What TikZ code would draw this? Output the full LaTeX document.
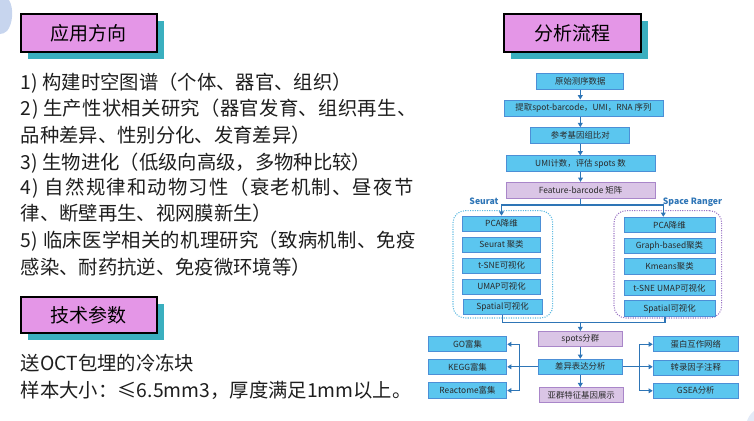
\documentclass[tikz,border=0pt]{standalone}
\usepackage{fontspec}
\setmainfont{Noto Sans CJK SC}
\usetikzlibrary{shadows,calc,arrows.meta}
\definecolor{titlepink}{HTML}{E496E7}
\definecolor{shteal}{HTML}{3AAFBF}
\definecolor{bfill}{HTML}{5BC6EF}
\definecolor{bline}{HTML}{4C8FD6}
\definecolor{pfill}{HTML}{DAC5E6}
\definecolor{pline}{HTML}{A986C9}
\definecolor{conn}{HTML}{2E75B6}
\definecolor{txt}{HTML}{1E1E1E}
\definecolor{ftxt}{HTML}{2A2A2A}
\definecolor{lblue}{HTML}{5BB8E0}
\definecolor{lpurp}{HTML}{9A74C4}
\definecolor{blob}{HTML}{C7D5EE}
\begin{document}
\begin{tikzpicture}[x=0.75pt,y=-0.75pt,
 wh/.style 2 args={minimum width=#1*0.75pt, minimum height=#2*0.75pt},
 titlebox/.style={draw=black, line width=1.3pt, fill=titlepink, inner sep=0pt, text=black,
   font=\fontsize{14.25}{16}\selectfont,
   drop shadow={shadow xshift=5.2pt, shadow yshift=-5.2pt, fill=shteal, opacity=1}},
 bodytext/.style={anchor=west, inner sep=0pt, text=txt, font=\fontsize{14.5}{16}\selectfont},
 fbox/.style={draw=bline, line width=0.75pt, fill=bfill, inner sep=0pt, text=ftxt,
   font=\fontsize{6.3}{7}\selectfont},
 pbox/.style={fbox, draw=pline, fill=pfill},
 arr/.style={draw=conn, line width=1pt, -{Triangle[length=3.2pt,width=3.6pt]}},
 ln/.style={draw=conn, line width=1pt},
 grp/.style={rounded corners=9pt, densely dotted, line width=0.8pt, inner sep=0pt},
 lbl/.style={inner sep=0pt, text=conn, font=\bfseries\fontsize{6.5}{7}\selectfont}]
\useasboundingbox (0,0) rectangle (754,421);
% decorations
\fill[blob] (0,0) -- (9,0) .. controls (14,8) and (13,24) .. (7,31) .. controls (5,33) and (2,34) .. (0,34) -- cycle;
\fill[blob!50] (754,411) .. controls (750,414) and (748,418) .. (747,421) -- (754,421) -- cycle;
% titles
\node[titlebox, wh={136}{38.3}] (tA) at (88.7,33.2) {应用方向};
\node[titlebox, wh={136.7}{38}] (tB) at (572.3,33) {分析流程};
\node[titlebox, wh={136}{36.6}] (tC) at (88.7,315) {技术参数};
% body text
\node[bodytext] (t1) at (20.7,82.7) {1) 构建时空图谱（个体、器官、组织）};
\node[bodytext] (t2) at (20.7,109.3) {\addfontfeatures{LetterSpace=1.7}2) 生产性状相关研究（器官发育、组织再生、};
\node[bodytext] (t3) at (20.7,135.3) {品种差异、性别分化、发育差异）};
\node[bodytext] (t4) at (20.7,162.7) {3) 生物进化（低级向高级，多物种比较）};
\node[bodytext] (t5) at (20.7,188.3) {\addfontfeatures{LetterSpace=6.2}4) 自然规律和动物习性（衰老机制、昼夜节};
\node[bodytext] (t6) at (20.7,213.3) {律、断壁再生、视网膜新生）};
\node[bodytext] (t7) at (20.7,240.7) {\addfontfeatures{LetterSpace=1.5}5) 临床医学相关的机理研究（致病机制、免疫};
\node[bodytext] (t8) at (20.7,266.7) {感染、耐药抗逆、免疫微环境等）};
\node[bodytext] (t9) at (20.7,363.3) {送OCT包埋的冷冻块};
\node[bodytext] (t10) at (20.7,390) {样本大小：≤6.5mm3，厚度满足1mm以上。};
% groups
\node[grp, draw=lblue, wh={99.7}{107.3}] (gL) at (502.85,264.35) {};
\node[grp, draw=lpurp, wh={107.7}{107.3}] (gR) at (667.85,264.35) {};
\node[lbl] (sl) at (484,201) {Seurat};
\node[lbl] (sr) at (692.5,202) {Space Ranger};
% flow boxes
\node[fbox, wh={87.3}{15.7}] (n1) at (580.3,81.2) {原始测序数据};
\node[fbox, wh={159}{16}] (n2) at (583.5,108) {提取spot-barcode，UMI，RNA 序列};
\node[fbox, wh={99.3}{15.7}] (n3) at (580.3,135.5) {参考基因组比对};
\node[fbox, wh={149}{15.7}] (n4) at (580.5,163.8) {UMI计数，评估 spots 数};
\node[pbox, wh={149}{15.7}] (n5) at (580.5,190.2) {Feature-barcode 矩阵};
\node[fbox, wh={78.4}{15}] (l1) at (501.5,223.7) {PCA降维};
\node[fbox, wh={78.4}{15}] (l2) at (501.5,244.8) {Seurat 聚类};
\node[fbox, wh={78.4}{15}] (l3) at (501.5,265.8) {t-SNE可视化};
\node[fbox, wh={78.4}{15}] (l4) at (501.5,286.8) {UMAP可视化};
\node[fbox, wh={79}{15}] (l5) at (502.5,306.8) {Spatial可视化};
\node[fbox, wh={91}{15.4}] (r1) at (669.5,225) {PCA降维};
\node[fbox, wh={91}{15.4}] (r2) at (669.5,245.8) {Graph-based聚类};
\node[fbox, wh={91}{15.4}] (r3) at (669.5,266.5) {Kmeans聚类};
\node[fbox, wh={91}{15.4}] (r4) at (669.5,288) {t-SNE UMAP可视化};
\node[fbox, wh={91}{15.4}] (r5) at (669.5,308.5) {Spatial可视化};
\node[pbox, wh={84}{14.5}] (s1) at (580.3,338.8) {spots分群};
\node[fbox, wh={84}{15}] (d1) at (580.3,366.8) {差异表达分析};
\node[pbox, wh={83.7}{15}] (a1) at (581.2,395.2) {亚群特征基因展示};
\node[fbox, wh={78.4}{15.3}] (g1) at (467.5,344.3) {GO富集};
\node[fbox, wh={78.4}{15.3}] (g2) at (467.5,366.8) {KEGG富集};
\node[fbox, wh={78.4}{15.3}] (g3) at (467.5,390.5) {Reactome富集};
\node[fbox, wh={85}{15.3}] (p1) at (695.8,344.3) {蛋白互作网络};
\node[fbox, wh={85}{15.3}] (p2) at (695.8,367.7) {转录因子注释};
\node[fbox, wh={85}{15.3}] (p3) at (695.8,390.8) {GSEA分析};
% connectors
\draw[arr] (n1.south) -- (n1.south |- n2.north);
\draw[arr] (n3.north |- n2.south) -- (n3.north);
\draw[arr] (n3.south) -- (n3.south |- n4.north);
\draw[arr] (n4.south) -- (n5.north);
\coordinate (br) at (580.5,205);
\draw[ln] (n5.south) -- (br);
\draw[arr] (br) -| (l1.north);
\draw[arr] (br) -| ($(r1.north)+(-6.2,0)$);
\coordinate (mg) at (580.3,322.7);
\draw[ln] (l5.south) |- (mg) -| ($(r5.south)+(-4.5,0)$);
\draw[arr] (mg) -- (s1.north);
\draw[arr] (s1.south) -- (d1.north);
\draw[arr] (d1.south) -- (d1.south |- a1.north);
\coordinate (lv) at (519.3,366.8);
\coordinate (rv) at (639.3,366.8);
\draw[arr] (d1.west) -- (g2.east);
\draw[arr] (lv) |- (g1.east);
\draw[arr] (lv) |- (g3.east);
\draw[arr] (d1.east) -- (d1.east -| p2.west);
\draw[arr] (rv) |- (p1.west);
\draw[arr] (rv) |- (p3.west);
\end{tikzpicture}
\end{document}
